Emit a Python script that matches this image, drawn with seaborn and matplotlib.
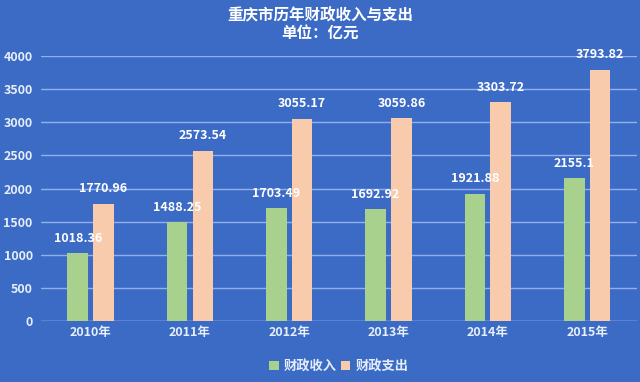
import matplotlib
matplotlib.use("Agg")
import matplotlib.pyplot as plt
import seaborn as sns
import pandas as pd

years = ["2010年", "2011年", "2012年", "2013年", "2014年", "2015年"]
income = [1018.36, 1488.25, 1703.49, 1692.92, 1921.88, 2155.1]
expense = [1770.96, 2573.54, 3055.17, 3059.86, 3303.72, 3793.82]
series = ["财政收入", "财政支出"]
title = "重庆市历年财政收入与支出\n单位：亿元"

sns.set_style("white")
plt.rcParams['font.family'] = ['Noto Sans CJK SC', 'DejaVu Sans']

df = pd.DataFrame({
    "year": years * 2,
    "value": income + expense,
    "kind": [series[0]] * len(years) + [series[1]] * len(years),
})

bg = "#3c6bc6"
fig = plt.figure(figsize=(6.4, 3.82), dpi=100, facecolor=bg)
ax = fig.add_axes([0.064, 0.16, 0.931, 0.693])
ax.set_facecolor(bg)

sns.barplot(data=df, x="year", y="value", hue="kind", ax=ax,
            palette=["#a9d18e", "#f8cbad"], width=0.52, gap=0.2,
            saturation=1, legend=True, linewidth=0, edgecolor="none")

ax.set_ylim(0, 4000)
ax.set_xlim(-0.5, 5.5)
ax.set_yticks(range(0, 4001, 500))
ax.yaxis.grid(True, color="#8fb0ea", linewidth=1)
ax.set_axisbelow(True)
for s in ax.spines.values():
    s.set_visible(False)
ax.axhline(0, color="#8fb0ea", linewidth=1, zorder=0)
ax.tick_params(axis="both", length=0, colors="#e6eefa", labelsize=9)
for t in ax.get_yticklabels() + ax.get_xticklabels():
    t.set_fontweight("bold")
ax.tick_params(axis="y", pad=6)
ax.set_xlabel("")
ax.set_ylabel("")

for cont in ax.containers:
    labels = [("%g" % v) for v in cont.datavalues]
    ax.bar_label(cont, labels=labels, padding=6, color="white",
                 fontsize=9, fontweight="bold")

leg = ax.legend(loc="upper center", bbox_to_anchor=(0.5, -0.1), ncol=2,
                frameon=False, handlelength=0.7, handleheight=0.7,
                handletextpad=0.4, columnspacing=0.3, fontsize=9.5)
for t in leg.get_texts():
    t.set_color("#e6eefa")
    t.set_fontweight("bold")

fig.text(0.5, 0.98, title, ha="center", va="top", color="white",
         fontsize=11.2, fontweight="bold", linespacing=1.05)

fig.savefig("out.png", dpi=100, facecolor=bg)
